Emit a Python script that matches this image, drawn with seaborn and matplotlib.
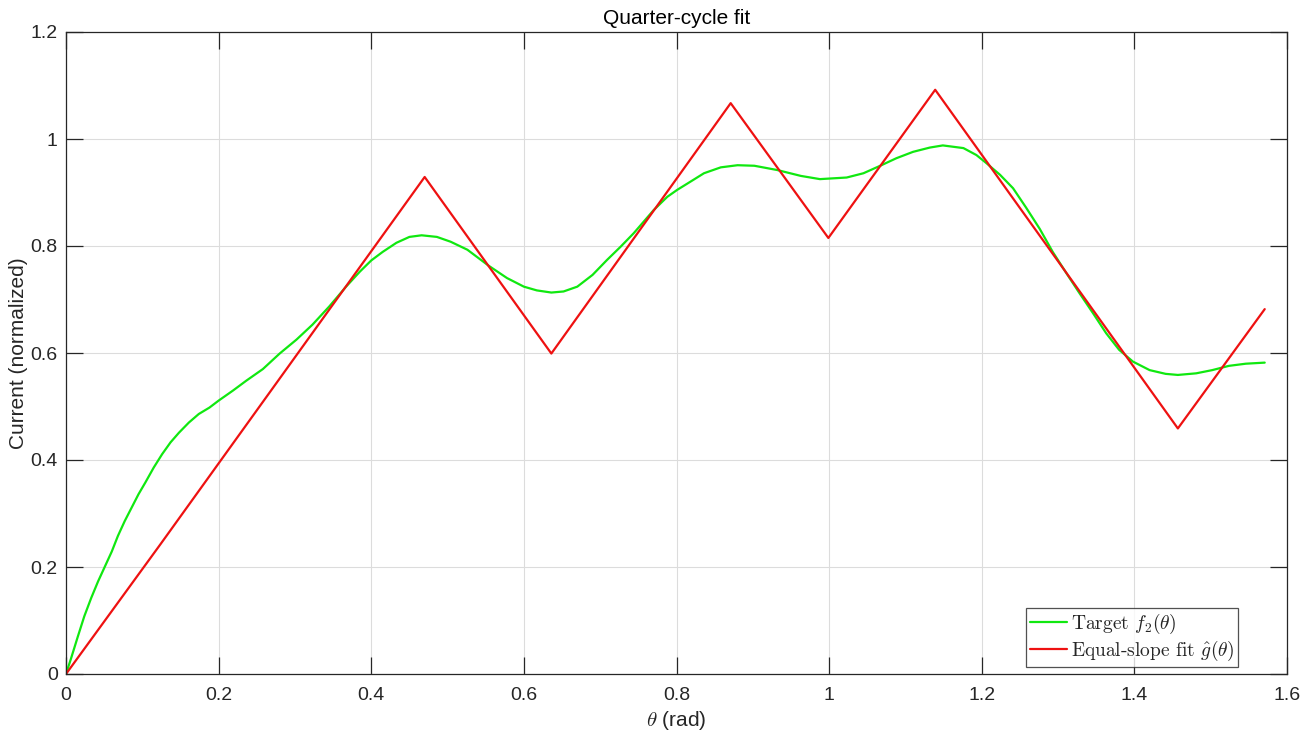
import matplotlib
matplotlib.use("Agg")
import matplotlib.pyplot as plt
import seaborn as sns
import pandas as pd

# green target curve
theta_target = [0, 0.0066, 0.0155, 0.024, 0.033, 0.042, 0.051, 0.060, 0.068, 0.077,
                0.086, 0.095, 0.104, 0.115, 0.126, 0.137, 0.148, 0.161, 0.174, 0.188,
                0.2, 0.219, 0.236, 0.258, 0.280, 0.302, 0.323, 0.345, 0.367, 0.385,
                0.400, 0.415, 0.433, 0.450, 0.466, 0.486, 0.504, 0.526, 0.554, 0.578,
                0.600, 0.617, 0.636, 0.652, 0.670, 0.690, 0.709, 0.727, 0.744, 0.770,
                0.788, 0.801, 0.818, 0.836, 0.858, 0.880, 0.902, 0.932, 0.963, 0.988,
                1.023, 1.045, 1.067, 1.088, 1.110, 1.132, 1.149, 1.176, 1.193, 1.206,
                1.224, 1.241, 1.258, 1.276, 1.293, 1.311, 1.328, 1.346, 1.363, 1.380,
                1.398, 1.420, 1.441, 1.457, 1.481, 1.502, 1.524, 1.546, 1.5708]
f_target = [0, 0.029, 0.070, 0.108, 0.142, 0.173, 0.201, 0.229, 0.258, 0.286,
            0.311, 0.336, 0.358, 0.386, 0.411, 0.433, 0.451, 0.470, 0.486, 0.498,
            0.511, 0.530, 0.548, 0.570, 0.599, 0.625, 0.653, 0.687, 0.724, 0.752,
            0.773, 0.789, 0.806, 0.817, 0.820, 0.817, 0.808, 0.793, 0.763, 0.740,
            0.724, 0.717, 0.713, 0.715, 0.724, 0.746, 0.774, 0.799, 0.824, 0.867,
            0.892, 0.905, 0.920, 0.936, 0.947, 0.951, 0.950, 0.942, 0.931, 0.925,
            0.928, 0.936, 0.950, 0.964, 0.976, 0.984, 0.988, 0.983, 0.970, 0.955,
            0.933, 0.908, 0.872, 0.832, 0.789, 0.749, 0.712, 0.674, 0.637, 0.606,
            0.584, 0.568, 0.561, 0.559, 0.562, 0.568, 0.576, 0.580, 0.582]

# red equal-slope fit vertices
theta_fit = [0, 0.124, 0.470, 0.636, 0.871, 0.999, 1.139, 1.457, 1.5708]
g_fit = [0, 0.243, 0.929, 0.599, 1.067, 0.815, 1.092, 0.459, 0.682]

xticks = [0, 0.2, 0.4, 0.6, 0.8, 1.0, 1.2, 1.4, 1.6]
xtick_labels = ["0", "0.2", "0.4", "0.6", "0.8", "1", "1.2", "1.4", "1.6"]
yticks = [0, 0.2, 0.4, 0.6, 0.8, 1.0, 1.2]
ytick_labels = ["0", "0.2", "0.4", "0.6", "0.8", "1", "1.2"]

label_target = r"Target $f_2(\theta)$"
label_fit = r"Equal-slope fit $\hat{g}(\theta)$"

sns.set_style("ticks")
plt.rcParams["font.family"] = ["Liberation Sans", "DejaVu Sans"]
plt.rcParams["mathtext.fontset"] = "cm"
plt.rcParams["axes.unicode_minus"] = False

fig = plt.figure(figsize=(13.03, 7.38), dpi=100, facecolor="white")
ax = fig.add_axes([66 / 1303, 1 - 674 / 738, (1287 - 66) / 1303, (674 - 32) / 738])

df_target = pd.DataFrame({"theta": theta_target, "val": f_target})
df_fit = pd.DataFrame({"theta": theta_fit, "val": g_fit})

sns.lineplot(data=df_target, x="theta", y="val", ax=ax, color="#10e810",
             linewidth=1.6, label=label_target, sort=False, estimator=None)
sns.lineplot(data=df_fit, x="theta", y="val", ax=ax, color="#ee1111",
             linewidth=1.6, label=label_fit, sort=False, estimator=None)

ax.set_xlim(0, 1.6)
ax.set_ylim(0, 1.2)
ax.set_xticks(xticks)
ax.set_xticklabels(xtick_labels)
ax.set_yticks(yticks)
ax.set_yticklabels(ytick_labels)

ax.grid(True, color="#dcdcdc", linewidth=0.8)
ax.set_axisbelow(True)
for s in ax.spines.values():
    s.set_visible(True)
    s.set_color("#262626")
    s.set_linewidth(0.9)
ax.tick_params(direction="in", length=12, width=0.9, colors="#262626",
               labelsize=14, top=True, right=True, labelcolor="#262626")
ax.tick_params(axis="x", pad=9)
ax.tick_params(axis="y", pad=6)

ax.set_title("Quarter-cycle fit", fontsize=15, color="black", pad=6)
ax.set_xlabel(r"$\theta$ (rad)", fontsize=15, color="#262626", labelpad=4)
ax.set_ylabel("Current (normalized)", fontsize=15, color="#262626", labelpad=2)

leg = ax.legend(loc="lower right", bbox_to_anchor=(0.96, 0.011), borderaxespad=0,
                frameon=True, fancybox=False, edgecolor="#262626",
                prop={"family": "cmr10", "size": 14}, handlelength=1.9,
                handletextpad=0.2, borderpad=0.2, labelspacing=0.15)
leg.get_frame().set_linewidth(0.9)

fig.savefig("out.png", dpi=100, facecolor="white")
